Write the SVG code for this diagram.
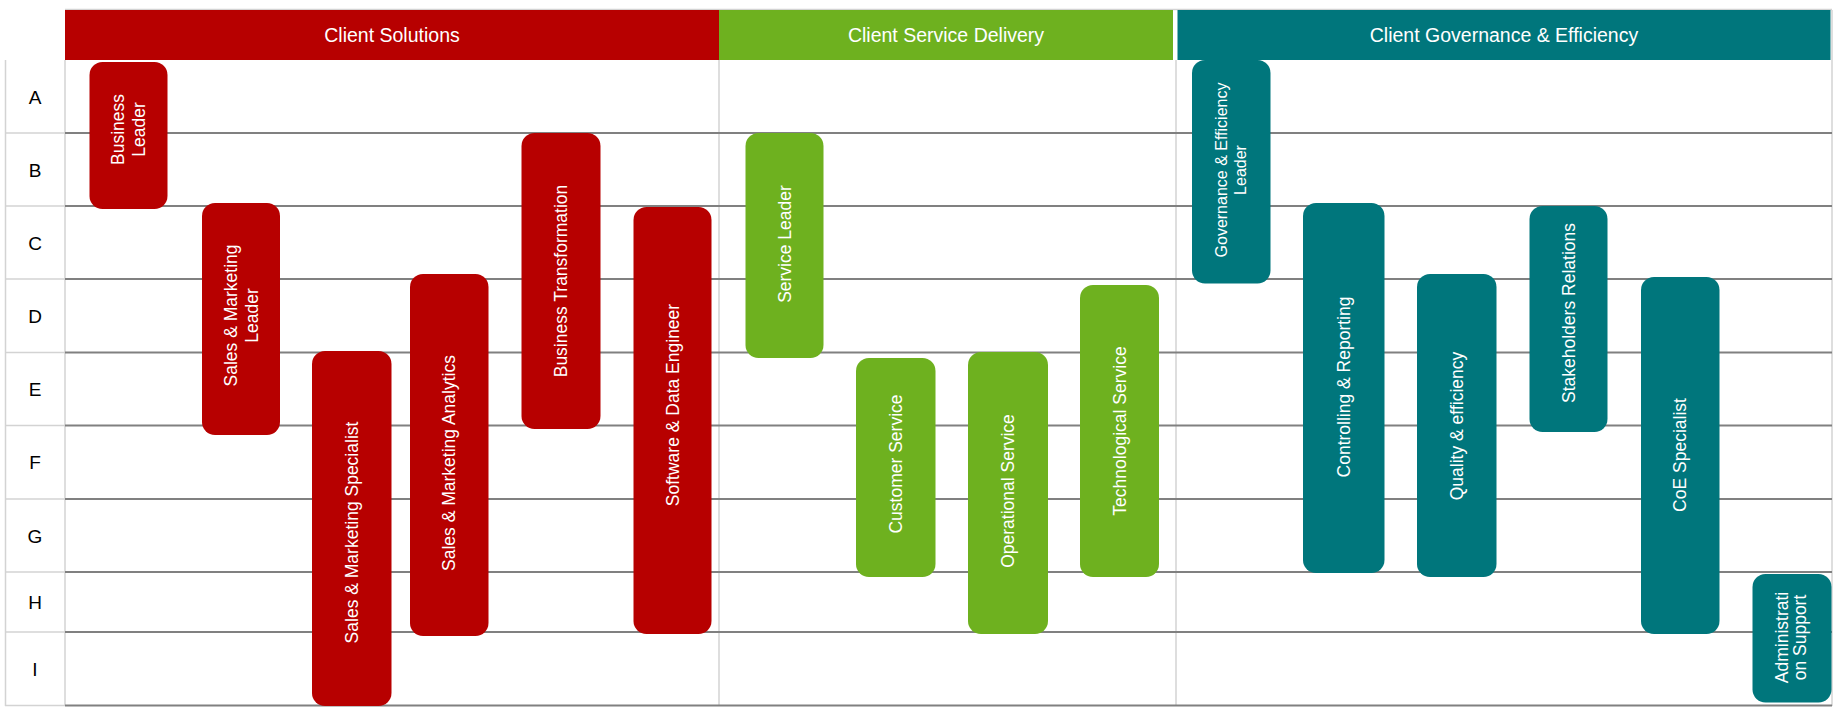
<svg xmlns="http://www.w3.org/2000/svg" width="1839" height="713" viewBox="0 0 1839 713">
<style>
.hdr{font-family:"Liberation Sans",Arial,sans-serif;font-size:19.5px;fill:#fff;text-anchor:middle}
.row{font-family:"Liberation Sans",Arial,sans-serif;font-size:19px;fill:#000;text-anchor:middle}
.lbl{font-family:"Liberation Sans",Arial,sans-serif;font-size:17.5px;fill:#fff;text-anchor:middle}
.sm{font-size:16px}
.red{fill:#B70000}
.grn{fill:#6EB11F}
.tel{fill:#00767C}
.dk{stroke:#808080;stroke-width:2;fill:none}
.lt{stroke:#d3d3d3;stroke-width:1.5;fill:none}
</style>
<rect width="1839" height="713" fill="#fff"/>
<g id="grid">
  <line class="lt" x1="65" y1="9.5" x2="1832" y2="9.5"/>
  <line class="lt" x1="5.5" y1="60" x2="5.5" y2="706"/>
  <line class="lt" x1="65" y1="60" x2="65" y2="706"/>
  <line class="lt" x1="719" y1="60" x2="719" y2="706"/>
  <line class="lt" x1="1176" y1="60" x2="1176" y2="706"/>
  <line class="lt" x1="1832" y1="10" x2="1832" y2="706"/>
  <g class="lt">
    <line x1="5" y1="133" x2="65" y2="133"/>
    <line x1="5" y1="206" x2="65" y2="206"/>
    <line x1="5" y1="279" x2="65" y2="279"/>
    <line x1="5" y1="352.5" x2="65" y2="352.5"/>
    <line x1="5" y1="425.5" x2="65" y2="425.5"/>
    <line x1="5" y1="499" x2="65" y2="499"/>
    <line x1="5" y1="572" x2="65" y2="572"/>
    <line x1="5" y1="632" x2="65" y2="632"/>
    <line x1="5" y1="705.5" x2="65" y2="705.5"/>
  </g>
  <g class="dk">
    <line x1="65" y1="133" x2="1832" y2="133"/>
    <line x1="65" y1="206" x2="1832" y2="206"/>
    <line x1="65" y1="279" x2="1832" y2="279"/>
    <line x1="65" y1="352.5" x2="1832" y2="352.5"/>
    <line x1="65" y1="425.5" x2="1832" y2="425.5"/>
    <line x1="65" y1="499" x2="1832" y2="499"/>
    <line x1="65" y1="572" x2="1832" y2="572"/>
    <line x1="65" y1="632" x2="1832" y2="632"/>
    <line x1="65" y1="705.5" x2="1832" y2="705.5"/>
  </g>
</g>
<g id="headers">
  <g id="h-solutions"><rect class="red" x="65" y="10" width="654" height="50"/><text class="hdr" x="392" y="42">Client Solutions</text></g>
  <g id="h-delivery"><rect class="grn" x="719" y="10" width="454" height="50"/><text class="hdr" x="946" y="42">Client Service Delivery</text></g>
  <g id="h-governance"><rect class="tel" x="1177.5" y="10" width="653" height="50"/><text class="hdr" x="1504" y="42">Client Governance &amp; Efficiency</text></g>
</g>
<g id="rows">
  <text class="row" x="35" y="103.5">A</text>
  <text class="row" x="35" y="176.5">B</text>
  <text class="row" x="35" y="249.5">C</text>
  <text class="row" x="35" y="323">D</text>
  <text class="row" x="35" y="396">E</text>
  <text class="row" x="35" y="469">F</text>
  <text class="row" x="35" y="542.5">G</text>
  <text class="row" x="35" y="609">H</text>
  <text class="row" x="35" y="676">I</text>
</g>
<g id="connectors"></g>
<g id="n-business-leader"><rect class="red" x="89.5" y="62" width="78" height="147" rx="13"/><text class="lbl" transform="translate(128.5,129.5) rotate(-90)"><tspan x="0" y="-4.4">Business</tspan><tspan x="0" y="16.6">Leader</tspan></text></g>
<g id="n-sm-leader"><rect class="red" x="202" y="203" width="78" height="232" rx="13"/><text class="lbl" transform="translate(241,315.5) rotate(-90)"><tspan x="0" y="-4.4">Sales &amp; Marketing</tspan><tspan x="0" y="16.6">Leader</tspan></text></g>
<g id="n-sm-specialist"><rect class="red" x="312" y="351" width="79.5" height="355" rx="13"/><text class="lbl" transform="translate(351.75,532.5) rotate(-90)" y="6.1">Sales &amp; Marketing Specialist</text></g>
<g id="n-sm-analytics"><rect class="red" x="410" y="274" width="78.5" height="362" rx="13"/><text class="lbl" transform="translate(449.25,463) rotate(-90)" y="6.1">Sales &amp; Marketing Analytics</text></g>
<g id="n-business-transformation"><rect class="red" x="521.5" y="133" width="79" height="296" rx="13"/><text class="lbl" transform="translate(561,281) rotate(-90)" y="6.1">Business Transformation</text></g>
<g id="n-software"><rect class="red" x="633.5" y="207" width="78" height="427" rx="13"/><text class="lbl" transform="translate(672.5,405) rotate(-90)" y="6.1">Software &amp; Data Engineer</text></g>
<g id="n-service-leader"><rect class="grn" x="745.5" y="133" width="78" height="225" rx="13"/><text class="lbl" transform="translate(784.5,244) rotate(-90)" y="6.1">Service Leader</text></g>
<g id="n-customer"><rect class="grn" x="856" y="358" width="79.5" height="219" rx="13"/><text class="lbl" transform="translate(895.75,464) rotate(-90)" y="6.1">Customer Service</text></g>
<g id="n-operational"><rect class="grn" x="968" y="352" width="80" height="282" rx="13"/><text class="lbl" transform="translate(1008,491) rotate(-90)" y="6.1">Operational Service</text></g>
<g id="n-technological"><rect class="grn" x="1080" y="285" width="79" height="292" rx="13"/><text class="lbl" transform="translate(1119.5,431) rotate(-90)" y="6.1">Technological Service</text></g>
<g id="n-governance-leader"><rect class="tel" x="1192" y="60" width="78.5" height="223.5" rx="13"/><text class="lbl sm" transform="translate(1231,170) rotate(-90)"><tspan x="0" y="-3.9">Governance &amp; Efficiency</tspan><tspan x="0" y="15.1">Leader</tspan></text></g>
<g id="n-controlling"><rect class="tel" x="1303" y="203" width="81.5" height="370" rx="13"/><text class="lbl" transform="translate(1343.75,387) rotate(-90)" y="6.1">Controlling &amp; Reporting</text></g>
<g id="n-quality"><rect class="tel" x="1417" y="274" width="79.5" height="303" rx="13"/><text class="lbl" transform="translate(1456.75,426) rotate(-90)" y="6.1">Quality &amp; efficiency</text></g>
<g id="n-stakeholders"><rect class="tel" x="1529.5" y="206" width="78" height="226" rx="13"/><text class="lbl" transform="translate(1568.5,313) rotate(-90)" y="6.1">Stakeholders Relations</text></g>
<g id="n-coe"><rect class="tel" x="1641" y="277" width="78.5" height="357" rx="13"/><text class="lbl" transform="translate(1680.25,455) rotate(-90)" y="6.1">CoE Specialist</text></g>
<g id="n-admin"><rect class="tel" x="1752.5" y="574" width="79" height="128.5" rx="13"/><text class="lbl" transform="translate(1791,637.5) rotate(-90)"><tspan x="0" y="-2.9">Administrati</tspan><tspan x="0" y="15.1">on Support</tspan></text></g>
</svg>
